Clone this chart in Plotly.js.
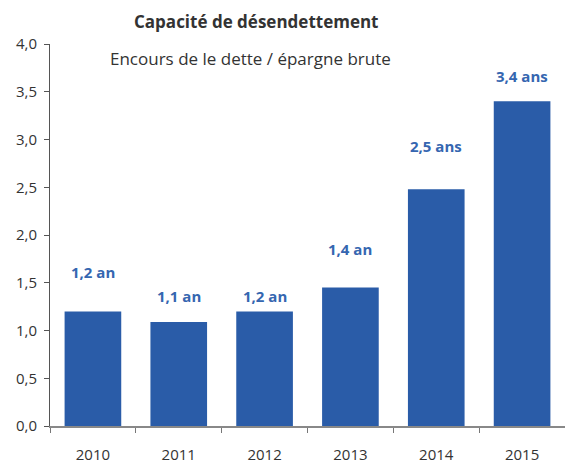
<!DOCTYPE html>
<html><head><meta charset="utf-8">
<script src="https://cdn.plot.ly/plotly-3.0.1.min.js"></script>
<style>html,body{margin:0;padding:0;background:#fff}</style>
</head><body>
<div id="chart" style="width:565px;height:462px"></div>
<script>
const years = ['2010','2011','2012','2013','2014','2015'];
const ratio = [1.20, 1.09, 1.20, 1.45, 2.48, 3.40];
const labels = ['1,2 an','1,1 an','1,2 an','1,4 an','2,5 ans','3,4 ans'];
const yTicks = [0, 0.5, 1, 1.5, 2, 2.5, 3, 3.5, 4];

const labelShift = [39, 26, 15, 39, 43, 25];
const FONT = 'Open Sans, sans-serif';

const annotations = years.map((y, i) => ({
  x: i, y: ratio[i], xref: 'x', yref: 'y', text: '<b>' + labels[i] + '</b>',
  showarrow: false, yshift: labelShift[i], yanchor: 'middle', xanchor: 'center',
  font: {family: FONT, size: 15, color: '#3566b0'}
}));
annotations.push({
  xref: 'paper', yref: 'paper', x: 0.40, y: 1.059, text: '<b>Capacité de désendettement</b>',
  showarrow: false, xanchor: 'center', yanchor: 'middle',
  font: {family: FONT, size: 17, color: '#333'}
});
annotations.push({
  xref: 'paper', yref: 'paper', x: 0.39, y: 0.9626, text: 'Encours de le dette / épargne brute',
  showarrow: false, xanchor: 'center', yanchor: 'middle',
  font: {family: FONT, size: 17, color: '#333'}
});

Plotly.newPlot('chart', [{
  type: 'bar', x: years, y: ratio,
  marker: {color: '#2a5ca8'}, hoverinfo: 'skip', cliponaxis: false
}], {
  width: 565, height: 462,
  margin: {l: 50, r: 0, t: 44, b: 36},
  paper_bgcolor: '#fff', plot_bgcolor: '#fff',
  separators: ', ',
  bargap: 0.34,
  showlegend: false,
  font: {family: FONT, size: 14, color: '#333'},
  xaxis: {
    type: 'category', range: [-0.5, 5.5], tickson: 'boundaries',
    ticks: 'outside', ticklen: 5, tickcolor: '#777', tickwidth: 1,
    showline: true, linecolor: '#888', linewidth: 2,
    showgrid: false, zeroline: false, ticklabelstandoff: 14,
    tickfont: {family: FONT, size: 15, color: '#333'}
  },
  yaxis: {
    range: [0, 4], tickvals: yTicks, tickformat: '.1f',
    ticks: 'outside', ticklen: 5, tickcolor: '#555', tickwidth: 1,
    showline: true, linecolor: '#555', linewidth: 1,
    showgrid: false, zeroline: false, ticklabelstandoff: 4,
    tickfont: {family: FONT, size: 15, color: '#333'}
  },
  annotations: annotations
}, {displayModeBar: false, staticPlot: true});
</script>
</body></html>
